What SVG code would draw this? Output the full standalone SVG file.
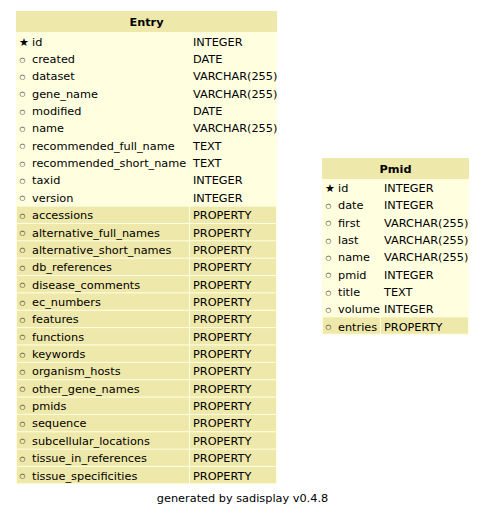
<svg xmlns="http://www.w3.org/2000/svg" width="485" height="517" viewBox="0 0 485 517">
  <style>
    text { font-family: "DejaVu Sans", "Liberation Sans", sans-serif; font-size: 11.3px; fill: #000; }
    .hdr { font-weight: bold; text-anchor: middle; }
    .star { font-size: 11px; }
    .dot text { font-size: 11px; font-weight: bold; }
    .bg { fill: #FFFFE0; }
    .head { fill: #EEE8AA; }
    .rel { fill: #EEE8AA; }
  </style>
  <rect width="485" height="517" fill="#fff"/>

  <!-- Entry table -->
  <g id="entry">
    <rect class="bg" x="16" y="11" width="261" height="473"/>
    <rect class="head" x="16" y="11" width="261" height="21"/>
    <text class="hdr" x="146.5" y="25.5">Entry</text>
    <!-- relationship rows -->
    <g class="rel">
      <rect x="17" y="206.6" width="172" height="16.3"/>
      <rect x="190" y="206.6" width="86" height="16.3"/>
      <rect x="17" y="224" width="172" height="16.3"/>
      <rect x="190" y="224" width="86" height="16.3"/>
      <rect x="17" y="241.3" width="172" height="16.3"/>
      <rect x="190" y="241.3" width="86" height="16.3"/>
      <rect x="17" y="258.7" width="172" height="16.3"/>
      <rect x="190" y="258.7" width="86" height="16.3"/>
      <rect x="17" y="276" width="172" height="16.3"/>
      <rect x="190" y="276" width="86" height="16.3"/>
      <rect x="17" y="293.4" width="172" height="16.3"/>
      <rect x="190" y="293.4" width="86" height="16.3"/>
      <rect x="17" y="310.8" width="172" height="16.3"/>
      <rect x="190" y="310.8" width="86" height="16.3"/>
      <rect x="17" y="328.1" width="172" height="16.3"/>
      <rect x="190" y="328.1" width="86" height="16.3"/>
      <rect x="17" y="345.5" width="172" height="16.3"/>
      <rect x="190" y="345.5" width="86" height="16.3"/>
      <rect x="17" y="362.8" width="172" height="16.3"/>
      <rect x="190" y="362.8" width="86" height="16.3"/>
      <rect x="17" y="380.2" width="172" height="16.3"/>
      <rect x="190" y="380.2" width="86" height="16.3"/>
      <rect x="17" y="397.6" width="172" height="16.3"/>
      <rect x="190" y="397.6" width="86" height="16.3"/>
      <rect x="17" y="414.9" width="172" height="16.3"/>
      <rect x="190" y="414.9" width="86" height="16.3"/>
      <rect x="17" y="432.3" width="172" height="16.3"/>
      <rect x="190" y="432.3" width="86" height="16.3"/>
      <rect x="17" y="449.6" width="172" height="16.3"/>
      <rect x="190" y="449.6" width="86" height="16.3"/>
      <rect x="17" y="467" width="172" height="16.3"/>
      <rect x="190" y="467" width="86" height="16.3"/>
    </g>
    <!-- key / column markers -->
    <text class="star" x="19" y="45.5">★</text>
    <g class="dot">
      <text transform="translate(19.6 61.5) scale(0.6)">○</text>
      <text transform="translate(19.6 78.8) scale(0.6)">○</text>
      <text transform="translate(19.6 96.2) scale(0.6)">○</text>
      <text transform="translate(19.6 113.5) scale(0.6)">○</text>
      <text transform="translate(19.6 130.9) scale(0.6)">○</text>
      <text transform="translate(19.6 148.3) scale(0.6)">○</text>
      <text transform="translate(19.6 165.6) scale(0.6)">○</text>
      <text transform="translate(19.6 183) scale(0.6)">○</text>
      <text transform="translate(19.6 200.3) scale(0.6)">○</text>
      <text transform="translate(19.6 217.7) scale(0.6)">○</text>
      <text transform="translate(19.6 235.1) scale(0.6)">○</text>
      <text transform="translate(19.6 252.4) scale(0.6)">○</text>
      <text transform="translate(19.6 269.8) scale(0.6)">○</text>
      <text transform="translate(19.6 287.1) scale(0.6)">○</text>
      <text transform="translate(19.6 304.5) scale(0.6)">○</text>
      <text transform="translate(19.6 321.9) scale(0.6)">○</text>
      <text transform="translate(19.6 339.2) scale(0.6)">○</text>
      <text transform="translate(19.6 356.6) scale(0.6)">○</text>
      <text transform="translate(19.6 373.9) scale(0.6)">○</text>
      <text transform="translate(19.6 391.3) scale(0.6)">○</text>
      <text transform="translate(19.6 408.7) scale(0.6)">○</text>
      <text transform="translate(19.6 426) scale(0.6)">○</text>
      <text transform="translate(19.6 443.4) scale(0.6)">○</text>
      <text transform="translate(19.6 460.7) scale(0.6)">○</text>
      <text transform="translate(19.6 478.1) scale(0.6)">○</text>
    </g>
    <g>
      <text x="32" y="45.5">id</text><text x="193" y="45.5">INTEGER</text>
      <text x="32" y="62.9">created</text><text x="193" y="62.9">DATE</text>
      <text x="32" y="80.2">dataset</text><text x="193" y="80.2">VARCHAR(255)</text>
      <text x="32" y="97.6">gene_name</text><text x="193" y="97.6">VARCHAR(255)</text>
      <text x="32" y="114.9">modified</text><text x="193" y="114.9">DATE</text>
      <text x="32" y="132.3">name</text><text x="193" y="132.3">VARCHAR(255)</text>
      <text x="32" y="149.7">recommended_full_name</text><text x="193" y="149.7">TEXT</text>
      <text x="32" y="167">recommended_short_name</text><text x="193" y="167">TEXT</text>
      <text x="32" y="184.4">taxid</text><text x="193" y="184.4">INTEGER</text>
      <text x="32" y="201.7">version</text><text x="193" y="201.7">INTEGER</text>
      <text x="32" y="219.1">accessions</text><text x="193" y="219.1">PROPERTY</text>
      <text x="32" y="236.5">alternative_full_names</text><text x="193" y="236.5">PROPERTY</text>
      <text x="32" y="253.8">alternative_short_names</text><text x="193" y="253.8">PROPERTY</text>
      <text x="32" y="271.2">db_references</text><text x="193" y="271.2">PROPERTY</text>
      <text x="32" y="288.5">disease_comments</text><text x="193" y="288.5">PROPERTY</text>
      <text x="32" y="305.9">ec_numbers</text><text x="193" y="305.9">PROPERTY</text>
      <text x="32" y="323.3">features</text><text x="193" y="323.3">PROPERTY</text>
      <text x="32" y="340.6">functions</text><text x="193" y="340.6">PROPERTY</text>
      <text x="32" y="358">keywords</text><text x="193" y="358">PROPERTY</text>
      <text x="32" y="375.3">organism_hosts</text><text x="193" y="375.3">PROPERTY</text>
      <text x="32" y="392.7">other_gene_names</text><text x="193" y="392.7">PROPERTY</text>
      <text x="32" y="410.1">pmids</text><text x="193" y="410.1">PROPERTY</text>
      <text x="32" y="427.4">sequence</text><text x="193" y="427.4">PROPERTY</text>
      <text x="32" y="444.8">subcellular_locations</text><text x="193" y="444.8">PROPERTY</text>
      <text x="32" y="462.1">tissue_in_references</text><text x="193" y="462.1">PROPERTY</text>
      <text x="32" y="479.5">tissue_specificities</text><text x="193" y="479.5">PROPERTY</text>
    </g>
  </g>

  <!-- Pmid table -->
  <g id="pmid">
    <rect class="bg" x="322" y="158" width="147" height="177"/>
    <rect class="head" x="322" y="158" width="147" height="21"/>
    <text class="hdr" x="395.5" y="172.5">Pmid</text>
    <rect class="rel" x="323" y="317.4" width="57" height="16.3"/>
    <rect class="rel" x="381" y="317.4" width="87" height="16.3"/>
    <text class="star" x="325" y="192.1">★</text>
    <g class="dot">
      <text transform="translate(325.6 208) scale(0.6)">○</text>
      <text transform="translate(325.6 225.3) scale(0.6)">○</text>
      <text transform="translate(325.6 242.6) scale(0.6)">○</text>
      <text transform="translate(325.6 259.9) scale(0.6)">○</text>
      <text transform="translate(325.6 277.2) scale(0.6)">○</text>
      <text transform="translate(325.6 294.5) scale(0.6)">○</text>
      <text transform="translate(325.6 311.8) scale(0.6)">○</text>
      <text transform="translate(325.6 329.1) scale(0.6)">○</text>
    </g>
    <text x="338" y="192.1">id</text><text x="384" y="192.1">INTEGER</text>
    <text x="338" y="209.4">date</text><text x="384" y="209.4">INTEGER</text>
    <text x="338" y="226.7">first</text><text x="384" y="226.7">VARCHAR(255)</text>
    <text x="338" y="244">last</text><text x="384" y="244">VARCHAR(255)</text>
    <text x="338" y="261.3">name</text><text x="384" y="261.3">VARCHAR(255)</text>
    <text x="338" y="278.6">pmid</text><text x="384" y="278.6">INTEGER</text>
    <text x="338" y="295.9">title</text><text x="384" y="295.9">TEXT</text>
    <text x="338" y="313.2">volume</text><text x="384" y="313.2">INTEGER</text>
    <text x="338" y="330.5">entries</text><text x="384" y="330.5">PROPERTY</text>
  </g>

  <!-- no relationships drawn between the tables -->
  <g id="connectors"/>

  <text x="242.5" y="501.5" text-anchor="middle">generated by sadisplay v0.4.8</text>
</svg>
